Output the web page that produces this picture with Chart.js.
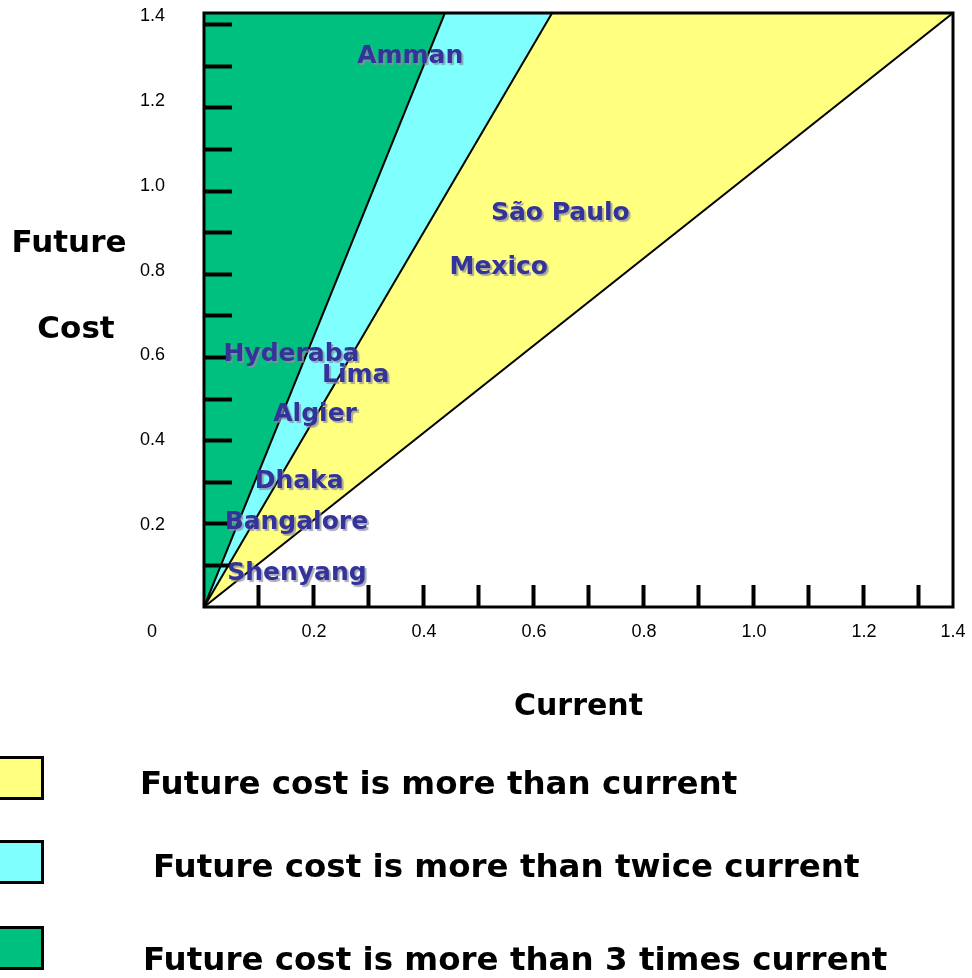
<!DOCTYPE html>
<html>
<head>
<meta charset="utf-8">
<script src="https://cdn.jsdelivr.net/npm/chart.js@4.4.1/dist/chart.umd.min.js"></script>
<style>
  html, body { margin: 0; padding: 0; background: #fff; overflow: hidden; }
  #wrap { position: relative; width: 972px; height: 978px; }
  #legend { position: absolute; left: 0; top: 0; width: 972px; height: 978px; pointer-events: none; }
  .lg-box { position: absolute; box-sizing: border-box; }
  .lg-text { position: absolute; white-space: nowrap; font-family: "DejaVu Sans", sans-serif; font-weight: bold; font-size: 32.5px; line-height: 39px; color: #000; }
</style>
</head>
<body>
<div id="wrap"><canvas id="c"></canvas><div id="legend"></div></div>
<script>
// ---------------- data ----------------
const X_MAX = 1.362;          // right edge of the plotted "Current" range
const Y_MAX = 1.4;            // top edge of the plotted "Future Cost" range
const Y_MARK_MAX = 1.428;     // range used by the left tick-mark ruler

const REGION_LABELS = [
  'Future cost is more than current',
  'Future cost is more than twice current',
  'Future cost is more than 3 times current'
];
const REGION_COLORS = ['#FFFF80', '#80FFFF', '#00C080'];
// each boundary line runs from (0,0) to (BOUNDARY_CURRENT, BOUNDARY_FUTURE)
const BOUNDARY_CURRENT = [1.362, 0.633, 0.438];
const BOUNDARY_FUTURE  = [1.4, 1.4, 1.4];

const CITY_NAMES   = ['Amman', 'São Paulo', 'Mexico', 'Hyderaba', 'Lima', 'Algier', 'Dhaka', 'Bangalore', 'Shenyang'];
const CITY_CURRENT = [0.375, 0.648, 0.536, 0.159, 0.276, 0.202, 0.173, 0.168, 0.169];
const CITY_FUTURE  = [1.304, 0.934, 0.807, 0.600, 0.552, 0.460, 0.302, 0.205, 0.085];

const X_TICK_VALUES = [0.1, 0.2, 0.3, 0.4, 0.5, 0.6, 0.7, 0.8, 0.9, 1.0, 1.1, 1.2, 1.3, X_MAX];
const X_TICK_LABELS = ['', '0.2', '', '0.4', '', '0.6', '', '0.8', '', '1.0', '', '1.2', '', '1.4'];
const Y_TICK_VALUES = [0.2, 0.4, 0.6, 0.8, 1.0, 1.2, 1.4];
const Y_TICK_LABELS = ['0.2', '0.4', '0.6', '0.8', '1.0', '1.2', '1.4'];
const Y_MARK_VALUES = [0.1, 0.2, 0.3, 0.4, 0.5, 0.6, 0.7, 0.8, 0.9, 1.0, 1.1, 1.2, 1.3, 1.4];
const ORIGIN_LABEL = '0';

const X_TITLE = 'Current';
const Y_TITLE = ['Future', 'Cost'];

// ---------------- layout / style ----------------
const TICK_FONT = { family: 'Liberation Sans', size: 18 };
const BOLD_FAMILY = '"DejaVu Sans", sans-serif';
const CITY_COLOR = '#333399';
const LEGEND_LAYOUT = [
  { boxTop: 756, textLeft: 140, textTop: 764 },
  { boxTop: 840, textLeft: 153, textTop: 847 },
  { boxTop: 926, textLeft: 143, textTop: 940 }
];

function noPad(s) { s.paddingTop = 0; s.paddingBottom = 0; s.paddingLeft = 0; s.paddingRight = 0; }

const regionDatasets = REGION_LABELS.map((label, i) => ({
  type: 'line',
  label: label,
  data: [{ x: 0, y: 0 }, { x: BOUNDARY_CURRENT[i], y: BOUNDARY_FUTURE[i] }],
  backgroundColor: REGION_COLORS[i],
  borderColor: '#000',
  borderWidth: 2,
  pointRadius: 0,
  tension: 0,
  fill: 'end',
  order: REGION_LABELS.length - i
}));

const cityDataset = {
  type: 'scatter',
  label: 'cities',
  data: CITY_NAMES.map((n, i) => ({ x: CITY_CURRENT[i], y: CITY_FUTURE[i] })),
  pointRadius: 0,
  showLine: false,
  order: 0
};

const decorPlugin = {
  id: 'decor',
  afterUpdate(chart) {
    const host = document.getElementById('legend');
    host.innerHTML = '';
    const items = chart.options.plugins.legend.labels.generateLabels(chart)
      .filter(it => it.datasetIndex < REGION_LABELS.length)
      .sort((a, b) => a.datasetIndex - b.datasetIndex);
    items.forEach((it, i) => {
      const L = LEGEND_LAYOUT[i];
      const box = document.createElement('div');
      box.className = 'lg-box';
      box.style.left = '-3px';
      box.style.top = L.boxTop + 'px';
      box.style.width = '47px';
      box.style.height = '44px';
      box.style.background = it.fillStyle;
      box.style.border = '3px solid ' + it.strokeStyle;
      host.appendChild(box);
      const t = document.createElement('div');
      t.className = 'lg-text';
      t.style.left = L.textLeft + 'px';
      t.style.top = L.textTop + 'px';
      t.textContent = it.text;
      host.appendChild(t);
    });
  },
  afterDraw(chart) {
    const { ctx, chartArea: a } = chart;
    ctx.save();
    // plot frame
    ctx.strokeStyle = '#000';
    ctx.lineWidth = 3;
    ctx.strokeRect(a.left, a.top, a.right - a.left, a.bottom - a.top);

    // origin tick label
    ctx.fillStyle = '#000';
    ctx.font = TICK_FONT.size + 'px "' + TICK_FONT.family + '"';
    ctx.textAlign = 'center';
    ctx.textBaseline = 'middle';
    ctx.fillText(ORIGIN_LABEL, a.left - 52, a.bottom + 25);

    // horizontal y-axis title
    ctx.font = 'bold 31px ' + BOLD_FAMILY;
    ctx.textBaseline = 'alphabetic';
    ctx.fillText(Y_TITLE[0], a.left - 135, a.top + 239);
    ctx.fillText(Y_TITLE[1], a.left - 128, a.top + 325);

    // city labels
    const meta = chart.getDatasetMeta(chart.data.datasets.length - 1);
    ctx.font = 'bold 25px ' + BOLD_FAMILY;
    ctx.textAlign = 'center';
    ctx.textBaseline = 'alphabetic';
    meta.data.forEach((pt, i) => {
      ctx.shadowColor = 'rgba(140,140,160,0.75)';
      ctx.shadowOffsetX = 2;
      ctx.shadowOffsetY = 2;
      ctx.shadowBlur = 1;
      ctx.fillStyle = CITY_COLOR;
      ctx.fillText(CITY_NAMES[i], pt.x, pt.y + 9);
    });
    ctx.restore();
  }
};

new Chart(document.getElementById('c'), {
  type: 'line',
  data: { datasets: [...regionDatasets, cityDataset] },
  options: {
    responsive: true,
    maintainAspectRatio: false,
    animation: false,
    events: [],
    layout: { padding: { top: 13, right: 19, bottom: 238, left: 0 } },
    plugins: { legend: { display: false }, tooltip: { enabled: false } },
    scales: {
      x: {
        type: 'linear',
        position: 'bottom',
        min: 0,
        max: X_MAX,
        afterBuildTicks: s => { s.ticks = X_TICK_VALUES.map(v => ({ value: v })); },
        afterFit: s => { s.height = 133; noPad(s); },
        ticks: {
          autoSkip: false, maxRotation: 0, minRotation: 0, z: 1,
          padding: 36, font: TICK_FONT, color: '#000',
          callback: (v, i) => X_TICK_LABELS[i]
        },
        grid: {
          display: true, drawOnChartArea: false, drawTicks: true, z: 1,
          tickLength: -22, tickWidth: 4,
          tickColor: c => (c.index === X_TICK_VALUES.length - 1 ? 'rgba(0,0,0,0)' : '#000')
        },
        border: { display: false },
        title: {
          display: true, text: X_TITLE, color: '#000',
          font: { family: BOLD_FAMILY, size: 30, weight: 'bold' },
          padding: { top: 0, bottom: 15 }
        }
      },
      y: {
        type: 'linear',
        position: 'left',
        weight: 1,
        min: 0,
        max: Y_MAX,
        afterBuildTicks: s => { s.ticks = Y_TICK_VALUES.map(v => ({ value: v })); },
        afterFit: s => { s.width = 204; noPad(s); },
        ticks: {
          autoSkip: false, padding: 39, labelOffset: 3, z: 1,
          font: TICK_FONT, color: '#000',
          callback: (v, i) => Y_TICK_LABELS[i]
        },
        grid: { display: false, drawTicks: false },
        border: { display: false }
      },
      ym: {
        type: 'linear',
        display: true,
        position: 'left',
        weight: 0,
        min: 0,
        max: Y_MARK_MAX,
        afterBuildTicks: s => { s.ticks = Y_MARK_VALUES.map(v => ({ value: v })); },
        afterFit: s => { s.width = 0; noPad(s); },
        ticks: { display: false, autoSkip: false },
        grid: {
          display: true, drawOnChartArea: false, drawTicks: true, z: 1,
          tickLength: -28, tickWidth: 4, tickColor: '#000'
        },
        border: { display: false }
      }
    }
  },
  plugins: [decorPlugin]
});
</script>
</body>
</html>
